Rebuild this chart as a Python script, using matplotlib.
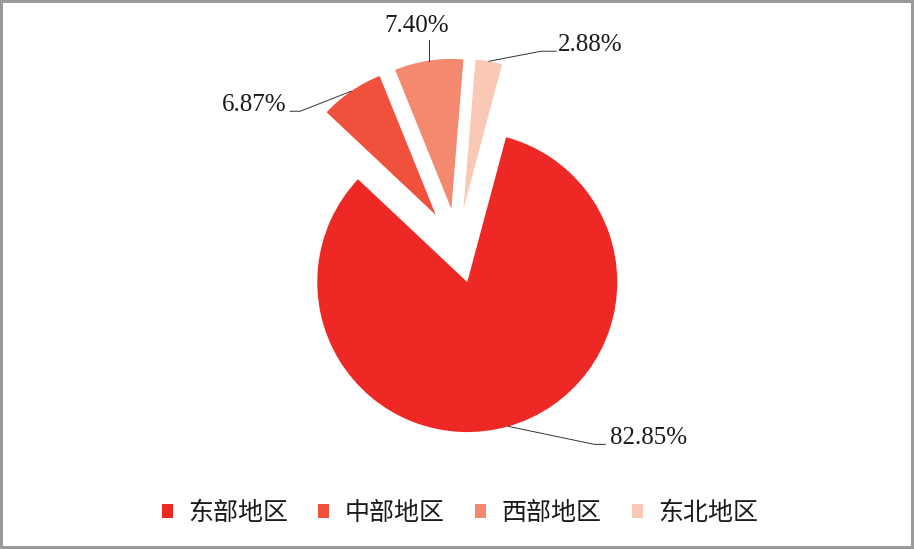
import numpy as np
import matplotlib.pyplot as plt

# data
regions = ['东部地区', '中部地区', '西部地区', '东北地区']
shares = [82.85, 6.87, 7.40, 2.88]
labels = ['82.85%', '6.87%', '7.40%', '2.88%']
colors = ['#EE2824', '#F0513C', '#F4896F', '#F9C9B6']

# leader line layout: (elbow dx, elbow dy, horizontal run, text dx, text dy, ha)
leaders = [(86, -18, 11, 5, 0, 'left'),
           (-51, -20, -10, -4, 0, 'right'),
           (0, 21, 0, -12, 8, 'center'),
           (52, 10, 15, 2, 0, 'left')]

W, H = 914, 549
fig = plt.figure(figsize=(W / 100, H / 100), dpi=100, linewidth=3, edgecolor='#9a9a9a')
ax = fig.add_axes([0, 0, 1, 1])

R = 150
wedges, _ = ax.pie(shares, colors=colors, startangle=75, counterclock=False,
                   radius=R, center=(457, 303), explode=[37.5] * 4,
                   wedgeprops=dict(linewidth=0))
ax.set_xlim(0, W)
ax.set_ylim(0, H)
ax.set_aspect('equal')
ax.axis('off')

for w, lab, (dx, dy, run, tdx, tdy, ha) in zip(wedges, labels, leaders):
    th = np.deg2rad((w.theta1 + w.theta2) / 2)
    x0 = w.center[0] + w.r * np.cos(th)
    y0 = w.center[1] + w.r * np.sin(th)
    x1, y1 = x0 + dx, y0 + dy
    x2 = x1 + run
    ax.plot([x0, x1, x2], [y0, y1, y1], color='#333333', lw=0.7)
    ax.text(x2 + tdx, y1 + tdy, lab, ha=ha, va='baseline',
            fontsize=18, family='Liberation Serif', color='#1a1a1a')

leg = ax.legend(wedges, regions, loc='center', bbox_to_anchor=(460 / W, 36 / H),
                bbox_transform=fig.transFigure, ncol=4, frameon=False,
                handlelength=0.44, handleheight=0.44, handletextpad=0.62,
                columnspacing=1.2, prop={'family': ['Noto Sans CJK SC', 'DejaVu Sans'], 'size': 18})
for t in leg.get_texts():
    t.set_color('#1a1a1a')

fig.savefig('out.png', dpi=100)
